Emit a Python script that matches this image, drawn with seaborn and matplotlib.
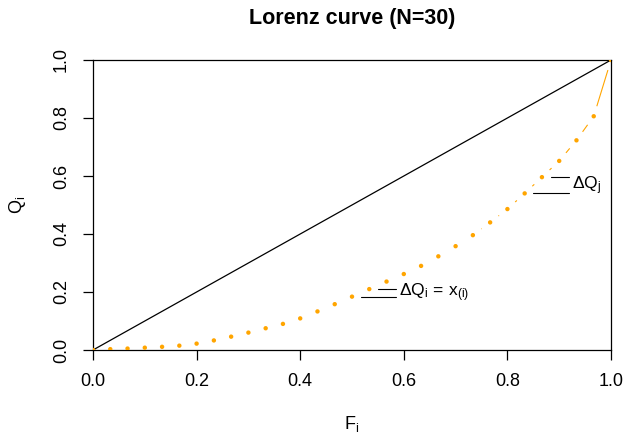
import numpy as np
import matplotlib
matplotlib.use("Agg")
import matplotlib.pyplot as plt
import seaborn as sns

# Lorenz curve data: cumulative population share F_i and cumulative income share Q_i
N = 30
F = np.arange(N + 1) / N
Q = [0.000,
     0.003, 0.005, 0.008, 0.011, 0.015, 0.022, 0.033, 0.046, 0.060, 0.075,
     0.090, 0.109, 0.133, 0.158, 0.184, 0.210, 0.236, 0.262, 0.290, 0.323,
     0.358, 0.396, 0.440, 0.486, 0.540, 0.596, 0.652, 0.723, 0.806, 1.000]

x_ticks = [0.0, 0.2, 0.4, 0.6, 0.8, 1.0]
y_ticks = [0.0, 0.2, 0.4, 0.6, 0.8, 1.0]
title = "Lorenz curve (N=30)"
x_label = r"$\mathregular{F_i}$"
y_label = r"$\mathregular{Q_i}$"

# step annotations: index of the lower point and its label
ann_idx = [15, 25]
ann_text = [r"$\mathregular{\Delta Q_i\,=\,x_{(i)}}$", r"$\mathregular{\Delta Q_j}$"]

sns.set_theme(style="white")
plt.rcParams["font.family"] = ["Liberation Sans", "DejaVu Sans"]
plt.rcParams["mathtext.fontset"] = "custom"
plt.rcParams["mathtext.rm"] = "Liberation Sans"
plt.rcParams["mathtext.it"] = "Liberation Sans"
plt.rcParams["text.color"] = "black"
plt.rcParams["axes.labelcolor"] = "black"

fig = plt.figure(figsize=(6.25, 4.32), dpi=100)
ax = fig.add_axes([93 / 625, 1 - 350 / 432, 518 / 625, 290 / 432])
ax.set_xlim(0, 1)
ax.set_ylim(0, 1)

# line of perfect equality
sns.lineplot(x=[0, 1], y=[0, 1], color="black", linewidth=0.9, ax=ax)

# points of the curve
sns.scatterplot(x=F, y=Q, color="orange", s=10, edgecolor="none", ax=ax, zorder=3)

# connecting segments, trimmed near each point so short steps show only the dots
fig.canvas.draw()
pts = ax.transData.transform(np.column_stack([F, Q]))
gap = 10.5
inv = ax.transData.inverted()
for k in range(N):
    p0, p1 = pts[k], pts[k + 1]
    d = p1 - p0
    L = np.hypot(*d)
    if L > 2 * gap:
        u = d / L
        a = inv.transform(p0 + u * gap)
        b = inv.transform(p1 - u * gap)
        ax.plot([a[0], b[0]], [a[1], b[1]], color="orange", linewidth=0.8,
                solid_capstyle="butt", zorder=2)

# step markers with labels
for i, txt in zip(ann_idx, ann_text):
    x_end = F[i] + 0.085
    ax.plot([F[i] + 0.5 / N, x_end], [Q[i], Q[i]], color="black", linewidth=0.8)
    ax.plot([F[i + 1] + 0.5 / N, x_end], [Q[i + 1], Q[i + 1]], color="black", linewidth=0.8)
    ax.text(x_end + 0.006, (Q[i] + Q[i + 1]) / 2, txt, fontsize=12.5,
            ha="left", va="center", color="black")

for s in ax.spines.values():
    s.set_visible(True)
    s.set_color("black")
    s.set_linewidth(0.9)

ax.set_xticks(x_ticks)
ax.set_yticks(y_ticks)
ax.set_xticklabels([f"{v:.1f}" for v in x_ticks])
ax.set_yticklabels([f"{v:.1f}" for v in y_ticks], rotation=90, va="center")
ax.tick_params(axis="both", direction="out", length=7.5, width=0.9, color="black",
               labelsize=13, labelcolor="black", pad=9, bottom=True, left=True)

ax.set_xlabel(x_label, fontsize=13, labelpad=17, color="black")
ax.set_ylabel(y_label, fontsize=13, labelpad=18, color="black")
ax.set_title(title, fontsize=15.5, fontweight="bold", pad=26, color="black")

fig.savefig("out.png", dpi=100)
